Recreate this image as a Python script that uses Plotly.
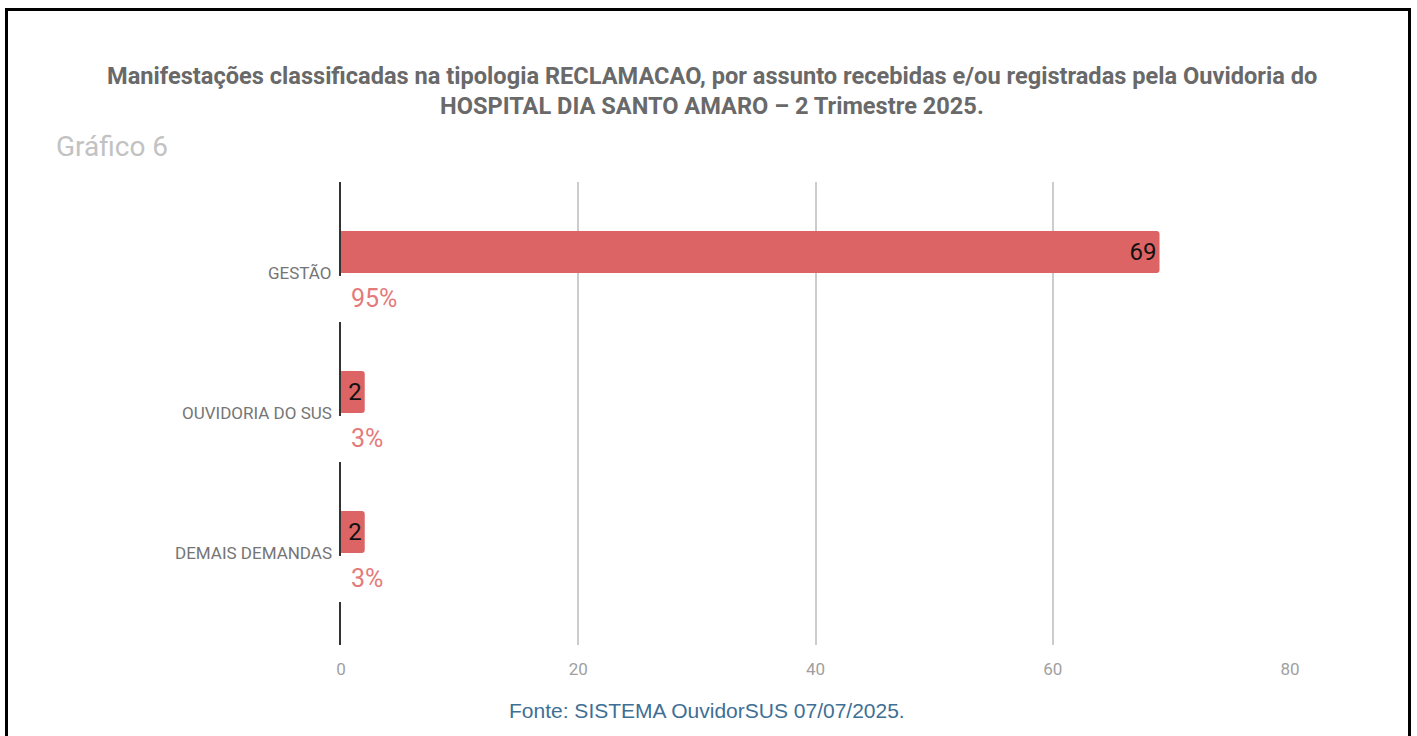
import plotly.graph_objects as go

categories = ["GESTÃO", "OUVIDORIA DO SUS", "DEMAIS DEMANDAS"]
values = [69, 2, 2]
pct_labels = ["95%", "3%", "3%"]
x_ticks = [0, 20, 40, 60, 80]

title_line1 = "Manifestações classificadas na tipologia RECLAMACAO, por assunto recebidas e/ou registradas pela Ouvidoria do"
title_line2 = "HOSPITAL DIA SANTO AMARO – 2 Trimestre 2025."
subtitle = "Gráfico 6"
source = "Fonte: SISTEMA OuvidorSUS 07/07/2025."

W, H = 1417, 736
L, R, T, B = 341, 127, 182, 91
pw, ph = W - L - R, H - T - B

def px_x(p):
    return (p - L) / pw

def px_y(p):
    return (H - B - p) / ph

fig = go.Figure()
fig.add_trace(go.Bar(
    x=values, y=categories, orientation="h", width=0.3,
    marker=dict(color="#dc6464", cornerradius=3, line=dict(width=0)),
    text=values, texttemplate="%{x}", textposition="inside", insidetextanchor="end",
    textfont=dict(family="Roboto", size=24, color="#111111"),
    hoverinfo="skip", showlegend=False,
))

annotations = []
for cat, pct in zip(categories, pct_labels):
    annotations.append(dict(
        x=0, y=cat, xref="x", yref="y", text=cat, showarrow=False,
        xanchor="right", yanchor="middle", xshift=-7, yshift=-21,
        font=dict(family="Roboto", size=17, color="#757575"),
    ))
    # white mask breaking the axis line behind the percentage label
    annotations.append(dict(
        x=0, y=cat, xref="x", yref="y", text=" ", showarrow=False,
        xanchor="center", yanchor="middle", yshift=-47,
        width=10, height=46, bgcolor="white", borderpad=0, borderwidth=0,
        font=dict(size=10),
    ))
    annotations.append(dict(
        x=0, y=cat, xref="x", yref="y", text=pct, showarrow=False,
        xanchor="left", yanchor="middle", xshift=8, yshift=-46,
        font=dict(family="Roboto", size=25, color="#e57a7a"),
    ))

annotations += [
    dict(x=px_x(712), y=px_y(76), xref="paper", yref="paper", text="<b>" + title_line1 + "</b>",
         showarrow=False, xanchor="center", yanchor="middle",
         font=dict(family="Roboto", size=23.6, color="#696969")),
    dict(x=px_x(712), y=px_y(106), xref="paper", yref="paper", text="<b>" + title_line2 + "</b>",
         showarrow=False, xanchor="center", yanchor="middle",
         font=dict(family="Roboto", size=23.6, color="#696969")),
    dict(x=px_x(54), y=px_y(146), xref="paper", yref="paper", text=subtitle,
         showarrow=False, xanchor="left", yanchor="middle",
         font=dict(family="Roboto", size=28, color="#c2c2c2")),
    dict(x=px_x(707), y=px_y(710), xref="paper", yref="paper", text=source,
         showarrow=False, xanchor="center", yanchor="middle",
         font=dict(family="Liberation Sans", size=21, color="#3e6f95")),
]

shapes = [dict(
    type="rect", xref="paper", yref="paper",
    x0=px_x(6.5), x1=px_x(1409.5), y0=px_y(745), y1=px_y(9.5),
    line=dict(color="#000000", width=3), fillcolor="rgba(0,0,0,0)", layer="above",
)]

fig.update_layout(
    width=W, height=H,
    margin=dict(l=L, r=R, t=T, b=B, autoexpand=False),
    paper_bgcolor="white", plot_bgcolor="white",
    annotations=annotations, shapes=shapes,
    xaxis=dict(
        range=[0, 80], tickvals=x_ticks, ticktext=[str(v) for v in x_ticks],
        showgrid=True, gridcolor="#cccccc", gridwidth=1.5,
        zeroline=False, showline=False, ticks="",
        ticklabelstandoff=12,
        tickfont=dict(family="Roboto", size=17, color="#a0a0a0"),
        fixedrange=True,
    ),
    yaxis=dict(
        type="category", categoryorder="array", categoryarray=categories,
        range=[2.807, -0.5], showticklabels=False, showgrid=False, zeroline=False,
        showline=True, linecolor="#333333", linewidth=2, ticks="",
        fixedrange=True,
    ),
    bargap=0.7,
)

fig.write_html(
    "out.html",
    config={"displayModeBar": False},
    post_script="document.body.style.margin='0';document.body.style.overflow='hidden';",
)
